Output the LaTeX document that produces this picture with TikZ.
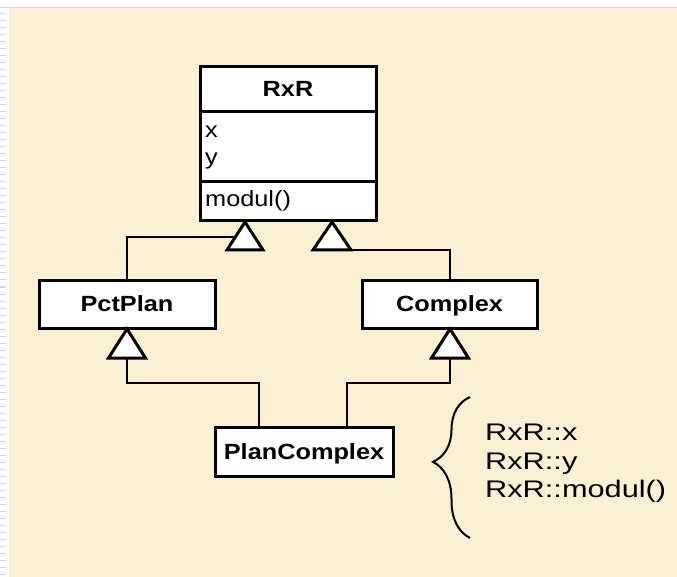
\documentclass[tikz,border=0pt]{standalone}
\usepackage{fontspec}
\setmainfont{Liberation Sans}
\newfontfamily\boxfont[FakeStretch=1.15]{Liberation Sans}
\newfontfamily\bracefont[FakeStretch=1.28]{Liberation Sans}
\usetikzlibrary{decorations.pathreplacing}
\definecolor{paper}{HTML}{FBEFD4}
\definecolor{stripgray}{HTML}{D8D8D8}
\tikzset{
  cls/.style={draw=black, line width=3pt, fill=white, inner sep=0pt},
  title/.style={font=\boxfont\fontsize{22}{26}\selectfont\bfseries, inner sep=0pt, anchor=base},
  attr/.style={font=\boxfont\fontsize{22}{26}\selectfont, inner sep=0pt, anchor=base west},
  note/.style={font=\bracefont\fontsize{24}{28}\selectfont, inner sep=0pt, anchor=base west},
  tri/.style={draw=black, line width=3pt, fill=white, line join=miter},
  link/.style={draw=black, line width=2pt},
}
\begin{document}
\begin{tikzpicture}[x=1pt,y=-1pt]
\useasboundingbox (0,0) rectangle (677,577);
% background
\fill[paper] (0,0) rectangle (677,577);
\fill[white] (0,0) rectangle (677,8);
\fill[white] (0,0) rectangle (9,577);
\draw[stripgray, line width=1pt] (0,8) -- (677,8);
\foreach \yy in {14,21,...,577} \draw[stripgray, line width=1pt] (0,\yy) -- (6,\yy);

% RxR class
\node[cls, minimum width=176pt, minimum height=154pt] (rxr) at (288,144) {};
\draw[line width=3pt] (200,112) -- (376,112);
\draw[line width=3pt] (200,182) -- (376,182);
\node[title] (rxrname) at (288,97) {RxR};
\node[attr] (ax) at (205,138) {x};
\node[attr] (ay) at (205,165) {y};
\node[attr] (am) at (205,207) {modul()};

% PctPlan, Complex, PlanComplex
\node[cls, minimum width=176pt, minimum height=47pt] (pct) at (127,304.5) {};
\node[title] (pctname) at (127,312) {PctPlan};
\node[cls, minimum width=175pt, minimum height=47pt] (cpx) at (449.5,304.5) {};
\node[title] (cpxname) at (449.5,312) {Complex};
\node[cls, minimum width=178pt, minimum height=49pt] (pc) at (304,451.5) {};
\node[title] (pcname) at (304,459) {PlanComplex};

% triangle coordinates
\coordinate (t1) at (245,222);
\coordinate (t2) at (332,222);
\coordinate (t3) at (127,329);
\coordinate (t4) at (450,329);
\coordinate (t1s) at (236,237);
\coordinate (t2b) at (332,250);
\coordinate (t3b) at (127,358);
\coordinate (t4b) at (450,358);
\coordinate (j3) at (127,383);
\coordinate (j4) at (450,383);

% connectors
\draw[link] (pct.north) |- (t1s);
\draw[link] (cpx.north) |- (t2b);
\draw[link] (t3b) -- (j3) -| ([xshift=-45pt]pc.north);
\draw[link] (t4b) -- (j4) -| ([xshift=43pt]pc.north);

% triangles
\draw[tri] (t1) -- ++(-18,28) -- ++(36,0) -- cycle;
\draw[tri] (t2) -- ++(-19,28) -- ++(38,0) -- cycle;
\draw[tri] (t3) -- ++(-18.5,29) -- ++(37,0) -- cycle;
\draw[tri] (t4) -- ++(-18.5,29) -- ++(37,0) -- cycle;

% brace
\coordinate (bb) at (470,538);
\coordinate (bt) at (470,397);
\draw[line width=2pt, decorate, decoration={brace, amplitude=37pt, aspect=0.54}] (bb) -- (bt);
\node[note] (n1) at (485,440) {RxR::x};
\node[note] (n2) at (485,469) {RxR::y};
\node[note] (n3) at (485,497) {RxR::modul()};
\end{tikzpicture}
\end{document}
